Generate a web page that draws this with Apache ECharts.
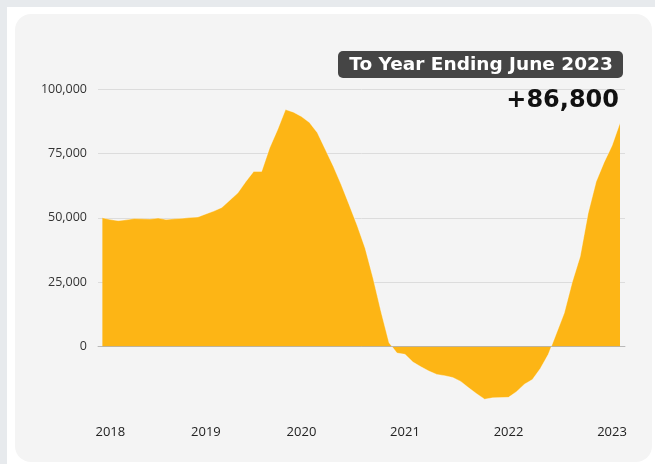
<!DOCTYPE html>
<html>
<head>
<meta charset="utf-8">
<script src="https://cdn.jsdelivr.net/npm/echarts@6/dist/echarts.min.js"></script>
<style>
html,body{margin:0;padding:0;background:#e7eaed;}
#chart{width:655px;height:464px;}
</style>
</head>
<body>
<div id="chart"></div>
<script>
// Monthly, Jan 2018 .. Jun 2023
const months = [];
for (let y = 2018; y <= 2023; y++) {
  for (let m = 1; m <= 12; m++) {
    if (y === 2023 && m > 6) break;
    months.push(y + '-' + String(m).padStart(2, '0'));
  }
}
const values = [
  50000, 49300, 48900, 49200, 49700, 49600, 49500, 49900, 49300, 49600, 49800, 50100,
  50300, 51500, 52600, 54000, 56800, 59600, 64000, 68000, 68000, 77100, 84200, 92000,
  91000, 89300, 87000, 83000, 76500, 70000, 62800, 55000, 47000, 38200, 26500, 13500,
  1500, -2500, -3000, -6000, -7800, -9500, -10800, -11300, -12000, -13500, -16000, -18300,
  -20400, -19900, -19800, -19700, -17500, -14600, -12800, -8500, -3000, 5000, 13000, 25000,
  35000, 51800, 64000, 71500, 78000, 86800
];
const yearLabelIdx = [1, 13, 25, 38, 51, 64];
const yTicks = [0, 25000, 50000, 75000, 100000];
const badgeText = 'To Year Ending June 2023';
const headlineText = '+86,800';

const FONT = 'Open Sans, Lato, sans-serif';
const HEAD_FONT = '"DejaVu Sans", "Open Sans", sans-serif';
const chart = echarts.init(document.getElementById('chart'), null, {renderer: 'canvas'});
const seriesData = values.map((v, i) => [i, v]);

chart.setOption({
  animation: false,
  backgroundColor: '#e7eaed',
  graphic: [
    {type: 'rect', z: -10, shape: {x: 7, y: 7, width: 648, height: 457}, style: {fill: '#ffffff'}},
    {type: 'rect', z: -9, shape: {x: 15, y: 14, width: 637, height: 448, r: 16}, style: {fill: '#f4f4f4'}},
    {type: 'rect', z: 10, shape: {x: 338, y: 51, width: 285, height: 27, r: 5}, style: {fill: '#454545'}},
    {type: 'text', z: 11, x: 481, y: 65, style: {text: badgeText, fill: '#ffffff', font: 'bold 18.5px ' + HEAD_FONT, align: 'center', verticalAlign: 'middle'}},
    {type: 'text', z: 11, x: 619, y: 101, style: {text: headlineText, fill: '#111111', font: 'bold 24px ' + HEAD_FONT, align: 'right', verticalAlign: 'middle'}}
  ],
  grid: {left: 98, right: 30, top: 89, bottom: 53, containLabel: false},
  xAxis: {
    type: 'value',
    min: -0.55,
    max: 65.63,
    z: 5,
    splitLine: {show: false},
    axisTick: {show: false},
    axisLine: {show: true, onZero: true, lineStyle: {color: 'rgba(170,170,170,0.7)', width: 1}},
    axisLabel: {
      customValues: yearLabelIdx,
      formatter: v => months[Math.round(v)].slice(0, 4),
      color: '#222', fontSize: 13, fontFamily: FONT,
      margin: 15
    }
  },
  yAxis: {
    type: 'value',
    min: -25000,
    max: 100000,
    interval: 25000,
    axisLine: {show: false},
    axisTick: {show: false},
    splitLine: {show: true, lineStyle: {color: ['rgba(0,0,0,0)', '#dcdcdc', '#dcdcdc', '#dcdcdc', '#dcdcdc', '#dcdcdc'], width: 1}},
    axisLabel: {
      formatter: v => (yTicks.indexOf(v) >= 0 ? v.toLocaleString('en-US') : ''),
      color: '#333', fontSize: 12.5, fontFamily: FONT, margin: 11
    }
  },
  series: [{
    type: 'line',
    data: seriesData,
    symbol: 'none',
    smooth: false,
    lineStyle: {color: 'rgba(255,255,255,0.45)', width: 0.8},
    areaStyle: {color: '#FDB515', opacity: 1, origin: 0}
  }]
});
</script>
</body>
</html>
